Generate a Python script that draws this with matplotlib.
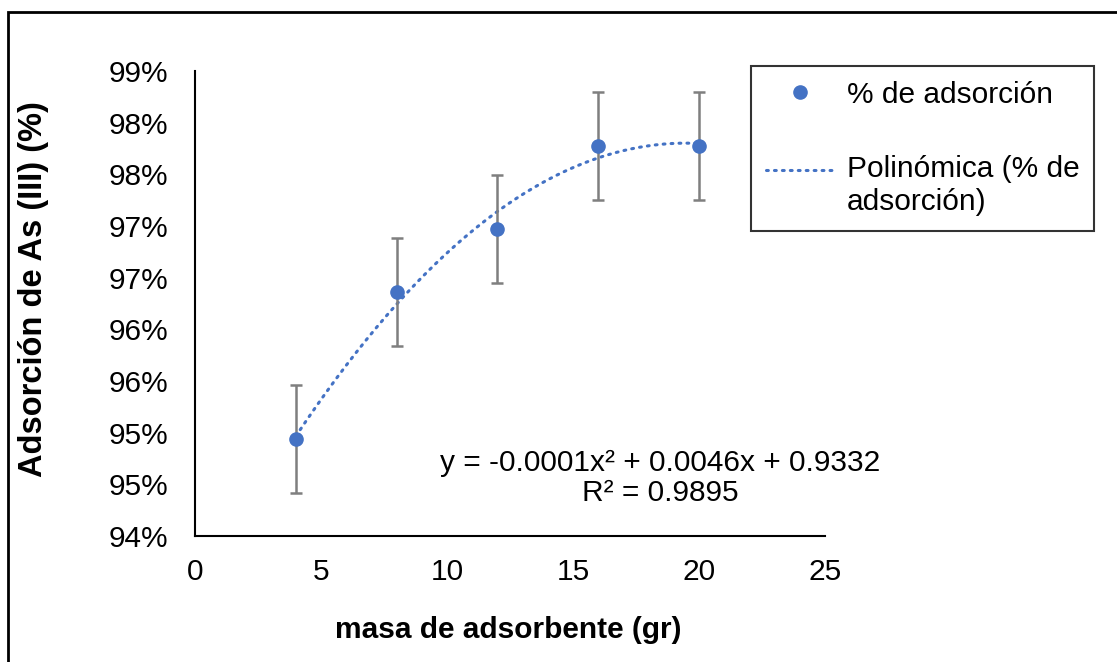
"""plot.py - As(III) adsorption vs adsorbent mass, with polynomial trendline"""

import numpy as np
import matplotlib
matplotlib.use('Agg')
import matplotlib.pyplot as plt
from matplotlib.patches import Rectangle
from matplotlib.ticker import FuncFormatter
from matplotlib.legend_handler import HandlerLine2D


# ---------------- Data ---------------- #

masa = [4, 8, 12, 16, 20]
adsorcion = [0.9504, 0.9662, 0.9730, 0.9819, 0.9819]
error = [0.0058, 0.0058, 0.0058, 0.0058, 0.0058]

eqText = 'y = -0.0001x² + 0.0046x + 0.9332\nR² = 0.9895'
blue = '#4472C4'
grey = '#7F7F7F'


# handle for the trendline sits on the first line of its two-line label
class HandlerTopLine(HandlerLine2D):
    def create_artists(self, legend, orig_handle, xdescent, ydescent,
                       width, height, fontsize, trans):
        arts = super().create_artists(legend, orig_handle, xdescent, ydescent,
                                      width, height, fontsize, trans)
        for a in arts:
            a.set_ydata(np.asarray(a.get_ydata()) + 0.55 * fontsize)
        return arts


# --------------- Visualization --------------- #

plt.rcParams['font.family'] = ['Liberation Sans', 'DejaVu Sans']
fs = 21.5

fig = plt.figure(figsize=(11.17, 6.62), dpi=100)
ax = fig.add_axes([195 / 1117, 1 - 536 / 662, 630 / 1117, 465 / 662])

# polynomial trendline (order 2), as Excel does
coef = np.polyfit(masa, adsorcion, 2)
xs = np.linspace(min(masa), max(masa), 200)
trend, = ax.plot(xs, np.polyval(coef, xs), color=blue, lw=2.2,
                 linestyle=(0, (0.6, 2.0)), dash_capstyle='round')

ax.errorbar(masa, adsorcion, yerr=error, fmt='none', ecolor=grey,
            elinewidth=1.8, capsize=4.5, capthick=1.8)
pts, = ax.plot(masa, adsorcion, 'o', color=blue, ms=9.5)

ax.set_xlim(0, 25)
ax.set_ylim(0.94, 0.99)
ax.set_xticks(np.arange(0, 26, 5))
ax.set_yticks(np.linspace(0.94, 0.99, 10))
ax.yaxis.set_major_formatter(FuncFormatter(
    lambda v, p: '%d%%' % int(np.floor(v * 100 + 0.5 + 1e-9))))
ax.tick_params(length=0, labelsize=fs)
ax.tick_params(axis='y', pad=19)
ax.tick_params(axis='x', pad=16)
for s in ['top', 'right']:
    ax.spines[s].set_visible(False)
for s in ['left', 'bottom']:
    ax.spines[s].set_linewidth(1.5)

ax.set_xlabel('masa de adsorbente (gr)', fontsize=fs, fontweight='bold')
ax.set_ylabel('Adsorción de As (III) (%)', fontsize=23.5, fontweight='bold')
ax.xaxis.set_label_coords(508 / 1117, 1 - 616 / 662, transform=fig.transFigure)
ax.yaxis.set_label_coords(49 / 1117, 1 - 289 / 662, transform=fig.transFigure)

ax.text(660 / 1117, 1 - 478 / 662, eqText, transform=fig.transFigure,
        ha='center', va='center', fontsize=fs, linespacing=1.05)

leg = ax.legend([pts, trend], ['% de adsorción', 'Polinómica (% de\nadsorción)'],
                handler_map={trend: HandlerTopLine()},
                loc='upper left', bbox_to_anchor=(751 / 1117, 1 - 66 / 662),
                bbox_transform=fig.transFigure, borderaxespad=0, fontsize=fs,
                frameon=True, fancybox=False, edgecolor='black',
                handlelength=2.3, labelspacing=1.55, borderpad=0.5,
                handletextpad=0.4)
leg.get_frame().set_linewidth(1.5)

# outer border of the chart area
fig.patches.append(Rectangle((8 / 1117, -0.1), 1.2, 1.1 - 12 / 662,
                             transform=fig.transFigure, fill=False,
                             edgecolor='black', lw=2))

fig.savefig('out.png', dpi=100)
